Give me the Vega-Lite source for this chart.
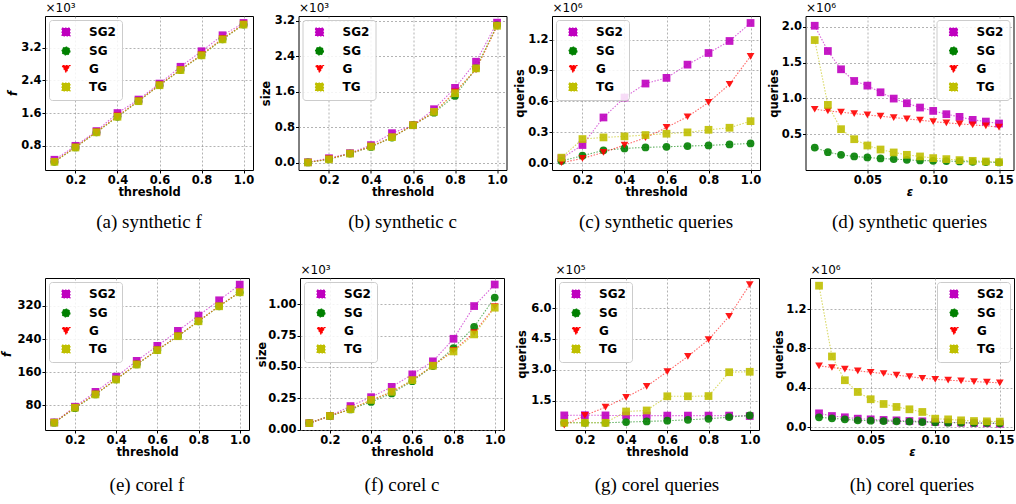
{
"$schema":"https://vega.github.io/schema/vega-lite/v6.json",
"padding":{"left":0,"top":0,"right":2,"bottom":2},
"datasets":{
"a":[
{"s":"SG2","x":0.1,"y":0.46},{"s":"SG2","x":0.2,"y":0.80},{"s":"SG2","x":0.3,"y":1.16},{"s":"SG2","x":0.4,"y":1.60},{"s":"SG2","x":0.5,"y":1.93},{"s":"SG2","x":0.6,"y":2.32},{"s":"SG2","x":0.7,"y":2.73},{"s":"SG2","x":0.8,"y":3.11},{"s":"SG2","x":0.9,"y":3.50},{"s":"SG2","x":1.0,"y":3.80},
{"s":"SG","x":0.1,"y":0.41},{"s":"SG","x":0.2,"y":0.76},{"s":"SG","x":0.3,"y":1.13},{"s":"SG","x":0.4,"y":1.51},{"s":"SG","x":0.5,"y":1.89},{"s":"SG","x":0.6,"y":2.28},{"s":"SG","x":0.7,"y":2.65},{"s":"SG","x":0.8,"y":3.01},{"s":"SG","x":0.9,"y":3.40},{"s":"SG","x":1.0,"y":3.76},
{"s":"G","x":0.1,"y":0.42},{"s":"G","x":0.2,"y":0.77},{"s":"G","x":0.3,"y":1.14},{"s":"G","x":0.4,"y":1.53},{"s":"G","x":0.5,"y":1.90},{"s":"G","x":0.6,"y":2.29},{"s":"G","x":0.7,"y":2.66},{"s":"G","x":0.8,"y":3.03},{"s":"G","x":0.9,"y":3.42},{"s":"G","x":1.0,"y":3.77},
{"s":"TG","x":0.1,"y":0.41},{"s":"TG","x":0.2,"y":0.76},{"s":"TG","x":0.3,"y":1.13},{"s":"TG","x":0.4,"y":1.51},{"s":"TG","x":0.5,"y":1.89},{"s":"TG","x":0.6,"y":2.28},{"s":"TG","x":0.7,"y":2.65},{"s":"TG","x":0.8,"y":3.01},{"s":"TG","x":0.9,"y":3.40},{"s":"TG","x":1.0,"y":3.76}
],
"b":[
{"s":"SG2","x":0.1,"y":0.015},{"s":"SG2","x":0.2,"y":0.105},{"s":"SG2","x":0.3,"y":0.22},{"s":"SG2","x":0.4,"y":0.40},{"s":"SG2","x":0.5,"y":0.67},{"s":"SG2","x":0.6,"y":0.85},{"s":"SG2","x":0.7,"y":1.21},{"s":"SG2","x":0.8,"y":1.69},{"s":"SG2","x":0.9,"y":2.28},{"s":"SG2","x":1.0,"y":3.16},
{"s":"SG","x":0.1,"y":0.01},{"s":"SG","x":0.2,"y":0.08},{"s":"SG","x":0.3,"y":0.21},{"s":"SG","x":0.4,"y":0.36},{"s":"SG","x":0.5,"y":0.57},{"s":"SG","x":0.6,"y":0.85},{"s":"SG","x":0.7,"y":1.13},{"s":"SG","x":0.8,"y":1.51},{"s":"SG","x":0.9,"y":2.13},{"s":"SG","x":1.0,"y":3.10},
{"s":"G","x":0.1,"y":0.01},{"s":"G","x":0.2,"y":0.09},{"s":"G","x":0.3,"y":0.21},{"s":"G","x":0.4,"y":0.37},{"s":"G","x":0.5,"y":0.58},{"s":"G","x":0.6,"y":0.85},{"s":"G","x":0.7,"y":1.14},{"s":"G","x":0.8,"y":1.60},{"s":"G","x":0.9,"y":2.10},{"s":"G","x":1.0,"y":3.08},
{"s":"TG","x":0.1,"y":0.01},{"s":"TG","x":0.2,"y":0.08},{"s":"TG","x":0.3,"y":0.21},{"s":"TG","x":0.4,"y":0.37},{"s":"TG","x":0.5,"y":0.58},{"s":"TG","x":0.6,"y":0.85},{"s":"TG","x":0.7,"y":1.15},{"s":"TG","x":0.8,"y":1.57},{"s":"TG","x":0.9,"y":2.13},{"s":"TG","x":1.0,"y":3.09}
],
"c":[
{"s":"SG2","x":0.1,"y":0.045},{"s":"SG2","x":0.2,"y":0.175},{"s":"SG2","x":0.3,"y":0.443},{"s":"SG2","x":0.4,"y":0.637},{"s":"SG2","x":0.5,"y":0.773},{"s":"SG2","x":0.6,"y":0.828},{"s":"SG2","x":0.7,"y":0.957},{"s":"SG2","x":0.8,"y":1.07},{"s":"SG2","x":0.9,"y":1.187},{"s":"SG2","x":1.0,"y":1.362},
{"s":"SG","x":0.1,"y":0.02},{"s":"SG","x":0.2,"y":0.071},{"s":"SG","x":0.3,"y":0.123},{"s":"SG","x":0.4,"y":0.142},{"s":"SG","x":0.5,"y":0.152},{"s":"SG","x":0.6,"y":0.158},{"s":"SG","x":0.7,"y":0.165},{"s":"SG","x":0.8,"y":0.171},{"s":"SG","x":0.9,"y":0.181},{"s":"SG","x":1.0,"y":0.19},
{"s":"G","x":0.1,"y":0.003},{"s":"G","x":0.2,"y":0.045},{"s":"G","x":0.3,"y":0.103},{"s":"G","x":0.4,"y":0.175},{"s":"G","x":0.5,"y":0.246},{"s":"G","x":0.6,"y":0.346},{"s":"G","x":0.7,"y":0.45},{"s":"G","x":0.8,"y":0.589},{"s":"G","x":0.9,"y":0.766},{"s":"G","x":1.0,"y":1.038},
{"s":"TG","x":0.1,"y":0.052},{"s":"TG","x":0.2,"y":0.233},{"s":"TG","x":0.3,"y":0.249},{"s":"TG","x":0.4,"y":0.259},{"s":"TG","x":0.5,"y":0.272},{"s":"TG","x":0.6,"y":0.285},{"s":"TG","x":0.7,"y":0.298},{"s":"TG","x":0.8,"y":0.323},{"s":"TG","x":0.9,"y":0.343},{"s":"TG","x":1.0,"y":0.407}
],
"d":[
{"s":"SG2","x":0.01,"y":2.014},{"s":"SG2","x":0.02,"y":1.661},{"s":"SG2","x":0.03,"y":1.406},{"s":"SG2","x":0.04,"y":1.243},{"s":"SG2","x":0.05,"y":1.178},{"s":"SG2","x":0.06,"y":1.085},{"s":"SG2","x":0.07,"y":0.997},{"s":"SG2","x":0.08,"y":0.932},{"s":"SG2","x":0.09,"y":0.872},{"s":"SG2","x":0.10,"y":0.825},{"s":"SG2","x":0.11,"y":0.779},{"s":"SG2","x":0.12,"y":0.742},{"s":"SG2","x":0.13,"y":0.700},{"s":"SG2","x":0.14,"y":0.676},{"s":"SG2","x":0.15,"y":0.649},
{"s":"SG","x":0.01,"y":0.314},{"s":"SG","x":0.02,"y":0.249},{"s":"SG","x":0.03,"y":0.212},{"s":"SG","x":0.04,"y":0.189},{"s":"SG","x":0.05,"y":0.175},{"s":"SG","x":0.06,"y":0.161},{"s":"SG","x":0.07,"y":0.152},{"s":"SG","x":0.08,"y":0.142},{"s":"SG","x":0.09,"y":0.133},{"s":"SG","x":0.10,"y":0.128},{"s":"SG","x":0.11,"y":0.124},{"s":"SG","x":0.12,"y":0.119},{"s":"SG","x":0.13,"y":0.114},{"s":"SG","x":0.14,"y":0.110},{"s":"SG","x":0.15,"y":0.105},
{"s":"G","x":0.01,"y":0.848},{"s":"G","x":0.02,"y":0.825},{"s":"G","x":0.03,"y":0.807},{"s":"G","x":0.04,"y":0.788},{"s":"G","x":0.05,"y":0.769},{"s":"G","x":0.06,"y":0.751},{"s":"G","x":0.07,"y":0.732},{"s":"G","x":0.08,"y":0.714},{"s":"G","x":0.09,"y":0.695},{"s":"G","x":0.10,"y":0.676},{"s":"G","x":0.11,"y":0.658},{"s":"G","x":0.12,"y":0.644},{"s":"G","x":0.13,"y":0.630},{"s":"G","x":0.14,"y":0.616},{"s":"G","x":0.15,"y":0.598},
{"s":"TG","x":0.01,"y":1.814},{"s":"TG","x":0.02,"y":0.909},{"s":"TG","x":0.03,"y":0.570},{"s":"TG","x":0.04,"y":0.430},{"s":"TG","x":0.05,"y":0.342},{"s":"TG","x":0.06,"y":0.286},{"s":"TG","x":0.07,"y":0.245},{"s":"TG","x":0.08,"y":0.212},{"s":"TG","x":0.09,"y":0.189},{"s":"TG","x":0.10,"y":0.166},{"s":"TG","x":0.11,"y":0.152},{"s":"TG","x":0.12,"y":0.138},{"s":"TG","x":0.13,"y":0.128},{"s":"TG","x":0.14,"y":0.119},{"s":"TG","x":0.15,"y":0.110}
],
"e":[
{"s":"SG2","x":0.1,"y":38.1},{"s":"SG2","x":0.2,"y":76},{"s":"SG2","x":0.3,"y":112},{"s":"SG2","x":0.4,"y":148.5},{"s":"SG2","x":0.5,"y":187},{"s":"SG2","x":0.6,"y":223.4},{"s":"SG2","x":0.7,"y":259.7},{"s":"SG2","x":0.8,"y":296.8},{"s":"SG2","x":0.9,"y":333.8},{"s":"SG2","x":1.0,"y":371.7},
{"s":"SG","x":0.1,"y":37.3},{"s":"SG","x":0.2,"y":72.5},{"s":"SG","x":0.3,"y":105.8},{"s":"SG","x":0.4,"y":142},{"s":"SG","x":0.5,"y":178.3},{"s":"SG","x":0.6,"y":213},{"s":"SG","x":0.7,"y":246.8},{"s":"SG","x":0.8,"y":283},{"s":"SG","x":0.9,"y":319.3},{"s":"SG","x":1.0,"y":353.2},
{"s":"G","x":0.1,"y":37.3},{"s":"G","x":0.2,"y":74},{"s":"G","x":0.3,"y":106.5},{"s":"G","x":0.4,"y":142.5},{"s":"G","x":0.5,"y":179},{"s":"G","x":0.6,"y":213.5},{"s":"G","x":0.7,"y":247.5},{"s":"G","x":0.8,"y":283.5},{"s":"G","x":0.9,"y":320},{"s":"G","x":1.0,"y":354},
{"s":"TG","x":0.1,"y":37.3},{"s":"TG","x":0.2,"y":73.6},{"s":"TG","x":0.3,"y":105.8},{"s":"TG","x":0.4,"y":142},{"s":"TG","x":0.5,"y":178.3},{"s":"TG","x":0.6,"y":213},{"s":"TG","x":0.7,"y":246.8},{"s":"TG","x":0.8,"y":283},{"s":"TG","x":0.9,"y":319.3},{"s":"TG","x":1.0,"y":353.2}
],
"f":[
{"s":"SG2","x":0.1,"y":0.052},{"s":"SG2","x":0.2,"y":0.109},{"s":"SG2","x":0.3,"y":0.188},{"s":"SG2","x":0.4,"y":0.259},{"s":"SG2","x":0.5,"y":0.341},{"s":"SG2","x":0.6,"y":0.441},{"s":"SG2","x":0.7,"y":0.545},{"s":"SG2","x":0.8,"y":0.725},{"s":"SG2","x":0.9,"y":0.986},{"s":"SG2","x":1.0,"y":1.158},
{"s":"SG","x":0.1,"y":0.052},{"s":"SG","x":0.2,"y":0.109},{"s":"SG","x":0.3,"y":0.161},{"s":"SG","x":0.4,"y":0.221},{"s":"SG","x":0.5,"y":0.289},{"s":"SG","x":0.6,"y":0.387},{"s":"SG","x":0.7,"y":0.507},{"s":"SG","x":0.8,"y":0.651},{"s":"SG","x":0.9,"y":0.82},{"s":"SG","x":1.0,"y":1.054},
{"s":"G","x":0.1,"y":0.05},{"s":"G","x":0.2,"y":0.109},{"s":"G","x":0.3,"y":0.165},{"s":"G","x":0.4,"y":0.235},{"s":"G","x":0.5,"y":0.30},{"s":"G","x":0.6,"y":0.395},{"s":"G","x":0.7,"y":0.51},{"s":"G","x":0.8,"y":0.632},{"s":"G","x":0.9,"y":0.774},{"s":"G","x":1.0,"y":0.981},
{"s":"TG","x":0.1,"y":0.052},{"s":"TG","x":0.2,"y":0.109},{"s":"TG","x":0.3,"y":0.163},{"s":"TG","x":0.4,"y":0.237},{"s":"TG","x":0.5,"y":0.302},{"s":"TG","x":0.6,"y":0.395},{"s":"TG","x":0.7,"y":0.51},{"s":"TG","x":0.8,"y":0.624},{"s":"TG","x":0.9,"y":0.760},{"s":"TG","x":1.0,"y":0.973}
],
"g":[
{"s":"SG2","x":0.1,"y":0.78},{"s":"SG2","x":0.2,"y":0.79},{"s":"SG2","x":0.3,"y":0.78},{"s":"SG2","x":0.4,"y":0.77},{"s":"SG2","x":0.5,"y":0.77},{"s":"SG2","x":0.6,"y":0.77},{"s":"SG2","x":0.7,"y":0.77},{"s":"SG2","x":0.8,"y":0.77},{"s":"SG2","x":0.9,"y":0.77},{"s":"SG2","x":1.0,"y":0.75},
{"s":"SG","x":0.1,"y":0.42},{"s":"SG","x":0.2,"y":0.42},{"s":"SG","x":0.3,"y":0.42},{"s":"SG","x":0.4,"y":0.455},{"s":"SG","x":0.5,"y":0.487},{"s":"SG","x":0.6,"y":0.52},{"s":"SG","x":0.7,"y":0.568},{"s":"SG","x":0.8,"y":0.616},{"s":"SG","x":0.9,"y":0.696},{"s":"SG","x":1.0,"y":0.777},
{"s":"G","x":0.1,"y":0.31},{"s":"G","x":0.2,"y":0.777},{"s":"G","x":0.3,"y":1.18},{"s":"G","x":0.4,"y":1.66},{"s":"G","x":0.5,"y":2.19},{"s":"G","x":0.6,"y":2.91},{"s":"G","x":0.7,"y":3.65},{"s":"G","x":0.8,"y":4.46},{"s":"G","x":0.9,"y":5.60},{"s":"G","x":1.0,"y":7.14},
{"s":"TG","x":0.1,"y":0.42},{"s":"TG","x":0.2,"y":0.42},{"s":"TG","x":0.3,"y":0.42},{"s":"TG","x":0.4,"y":0.97},{"s":"TG","x":0.5,"y":1.02},{"s":"TG","x":0.6,"y":1.71},{"s":"TG","x":0.7,"y":1.71},{"s":"TG","x":0.8,"y":1.72},{"s":"TG","x":0.9,"y":2.88},{"s":"TG","x":1.0,"y":2.90}
],
"h":[
{"s":"SG2","x":0.01,"y":0.142},{"s":"SG2","x":0.02,"y":0.115},{"s":"SG2","x":0.03,"y":0.102},{"s":"SG2","x":0.04,"y":0.088},{"s":"SG2","x":0.05,"y":0.081},{"s":"SG2","x":0.06,"y":0.075},{"s":"SG2","x":0.07,"y":0.071},{"s":"SG2","x":0.08,"y":0.064},{"s":"SG2","x":0.09,"y":0.061},{"s":"SG2","x":0.10,"y":0.054},{"s":"SG2","x":0.11,"y":0.051},{"s":"SG2","x":0.12,"y":0.047},{"s":"SG2","x":0.13,"y":0.044},{"s":"SG2","x":0.14,"y":0.041},{"s":"SG2","x":0.15,"y":0.037},
{"s":"SG","x":0.01,"y":0.102},{"s":"SG","x":0.02,"y":0.092},{"s":"SG","x":0.03,"y":0.081},{"s":"SG","x":0.04,"y":0.071},{"s":"SG","x":0.05,"y":0.068},{"s":"SG","x":0.06,"y":0.064},{"s":"SG","x":0.07,"y":0.061},{"s":"SG","x":0.08,"y":0.058},{"s":"SG","x":0.09,"y":0.054},{"s":"SG","x":0.10,"y":0.051},{"s":"SG","x":0.11,"y":0.047},{"s":"SG","x":0.12,"y":0.047},{"s":"SG","x":0.13,"y":0.044},{"s":"SG","x":0.14,"y":0.044},{"s":"SG","x":0.15,"y":0.041},
{"s":"G","x":0.01,"y":0.624},{"s":"G","x":0.02,"y":0.607},{"s":"G","x":0.03,"y":0.590},{"s":"G","x":0.04,"y":0.573},{"s":"G","x":0.05,"y":0.559},{"s":"G","x":0.06,"y":0.546},{"s":"G","x":0.07,"y":0.529},{"s":"G","x":0.08,"y":0.515},{"s":"G","x":0.09,"y":0.498},{"s":"G","x":0.10,"y":0.488},{"s":"G","x":0.11,"y":0.478},{"s":"G","x":0.12,"y":0.471},{"s":"G","x":0.13,"y":0.464},{"s":"G","x":0.14,"y":0.458},{"s":"G","x":0.15,"y":0.451},
{"s":"TG","x":0.01,"y":1.437},{"s":"TG","x":0.02,"y":0.719},{"s":"TG","x":0.03,"y":0.478},{"s":"TG","x":0.04,"y":0.359},{"s":"TG","x":0.05,"y":0.285},{"s":"TG","x":0.06,"y":0.237},{"s":"TG","x":0.07,"y":0.207},{"s":"TG","x":0.08,"y":0.183},{"s":"TG","x":0.09,"y":0.156},{"s":"TG","x":0.10,"y":0.088},{"s":"TG","x":0.11,"y":0.081},{"s":"TG","x":0.12,"y":0.071},{"s":"TG","x":0.13,"y":0.064},{"s":"TG","x":0.14,"y":0.061},{"s":"TG","x":0.15,"y":0.058}
]
},
"config":{
"font":"DejaVu Sans",
"view":{"stroke":"#000000","strokeWidth":1},
"axis":{"domain":false,"tickColor":"#000000","tickSize":3,"labelColor":"#000000","labelFont":"DejaVu Sans","labelFontWeight":"bold","labelFontSize":11.5,"labelPadding":1,"labelFlush":false,"labelOverlap":false,"titleColor":"#000000","titleFont":"DejaVu Sans","titleFontWeight":"bold","titleFontSize":11.5,"titlePadding":1,"grid":true,"gridColor":"#888888","gridDash":[2,2],"gridWidth":0.8,"gridOpacity":0.8},
"legend":{"orient":"top-left","offset":4,"title":null,"labelFont":"DejaVu Sans","labelFontWeight":"bold","labelFontSize":12,"labelColor":"#000000","padding":6,"rowPadding":5,"symbolOffset":5,"labelOffset":17,"symbolSize":64,"strokeColor":"#cccccc","fillColor":"rgba(255,255,255,0.85)","cornerRadius":3,"symbolStrokeWidth":0},
"title":{"font":"Liberation Serif","fontSize":19,"fontWeight":"normal","color":"#000000","orient":"bottom","offset":15},
"line":{"strokeDash":[1.5,1.5],"strokeWidth":1.1,"opacity":0.6},
"point":{"filled":true,"size":60,"opacity":0.9}
},
"spacing":29,
"resolve":{"scale":{"x":"independent","y":"independent"},"legend":{"color":"independent","shape":"independent"}},
"vconcat":[
{"hconcat":[
{"width":208,"height":154,"data":{"name":"a"},"title":{"text":"(a) synthetic f"},
"layer":[
{"mark":"line","encoding":{
"x":{"field":"x","type":"quantitative","scale":{"domain":[0.055,1.045],"nice":false,"zero":false},"axis":{"values":[0.2,0.4,0.6,0.8,1.0],"tickCount":12,"format":".1f","title":"threshold"}},
"y":{"field":"y","type":"quantitative","scale":{"domain":[0.21,3.97],"nice":false,"zero":false},"axis":{"values":[0.8,1.6,2.4,3.2],"tickCount":12,"format":".1f","title":"f","titleFontStyle":"italic","minExtent":26,"maxExtent":26}},
"color":{"field":"s","type":"nominal","scale":{"domain":["SG2","SG","G","TG"],"range":["#bf00bf","#008000","#ff0000","#bfbf00"]}}}},
{"mark":"point","encoding":{
"x":{"field":"x","type":"quantitative","axis":{"orient":"top","labels":false,"ticks":false,"domain":false,"grid":false,"title":"×10³","titleAnchor":"start","titleAlign":"left","titleFontWeight":"normal","titleFontSize":12,"titlePadding":2}},
"y":{"field":"y","type":"quantitative"},
"color":{"field":"s","type":"nominal","scale":{"domain":["SG2","SG","G","TG"],"range":["#bf00bf","#008000","#ff0000","#bfbf00"]}},
"shape":{"field":"s","type":"nominal","scale":{"domain":["SG2","SG","G","TG"],"range":["square","circle","triangle-down","square"]}}}}
],"resolve":{"axis":{"x":"independent"}}},
{"width":208,"height":154,"data":{"name":"b"},"title":{"text":"(b) synthetic c"},
"layer":[
{"mark":"line","encoding":{
"x":{"field":"x","type":"quantitative","scale":{"domain":[0.055,1.045],"nice":false,"zero":false},"axis":{"values":[0.2,0.4,0.6,0.8,1.0],"tickCount":12,"format":".1f","title":"threshold"}},
"y":{"field":"y","type":"quantitative","scale":{"domain":[-0.16,3.31],"nice":false,"zero":false},"axis":{"values":[0,0.8,1.6,2.4,3.2],"tickCount":12,"format":".1f","title":"size","minExtent":26,"maxExtent":26}},
"color":{"field":"s","type":"nominal","scale":{"domain":["SG2","SG","G","TG"],"range":["#bf00bf","#008000","#ff0000","#bfbf00"]}}}},
{"mark":"point","encoding":{
"x":{"field":"x","type":"quantitative","axis":{"orient":"top","labels":false,"ticks":false,"domain":false,"grid":false,"title":"×10³","titleAnchor":"start","titleAlign":"left","titleFontWeight":"normal","titleFontSize":12,"titlePadding":2}},
"y":{"field":"y","type":"quantitative"},
"color":{"field":"s","type":"nominal","scale":{"domain":["SG2","SG","G","TG"],"range":["#bf00bf","#008000","#ff0000","#bfbf00"]}},
"shape":{"field":"s","type":"nominal","scale":{"domain":["SG2","SG","G","TG"],"range":["square","circle","triangle-down","square"]}}}}
],"resolve":{"axis":{"x":"independent"}}},
{"width":208,"height":154,"data":{"name":"c"},"title":{"text":"(c) synthetic queries"},
"layer":[
{"mark":"line","encoding":{
"x":{"field":"x","type":"quantitative","scale":{"domain":[0.055,1.045],"nice":false,"zero":false},"axis":{"values":[0.2,0.4,0.6,0.8,1.0],"tickCount":12,"format":".1f","title":"threshold"}},
"y":{"field":"y","type":"quantitative","scale":{"domain":[-0.068,1.43],"nice":false,"zero":false},"axis":{"values":[0,0.3,0.6,0.9,1.2],"tickCount":12,"format":".1f","title":"queries","minExtent":26,"maxExtent":26}},
"color":{"field":"s","type":"nominal","scale":{"domain":["SG2","SG","G","TG"],"range":["#bf00bf","#008000","#ff0000","#bfbf00"]}}}},
{"mark":"point","encoding":{
"x":{"field":"x","type":"quantitative","axis":{"orient":"top","labels":false,"ticks":false,"domain":false,"grid":false,"title":"×10⁶","titleAnchor":"start","titleAlign":"left","titleFontWeight":"normal","titleFontSize":12,"titlePadding":2}},
"y":{"field":"y","type":"quantitative"},
"color":{"field":"s","type":"nominal","scale":{"domain":["SG2","SG","G","TG"],"range":["#bf00bf","#008000","#ff0000","#bfbf00"]}},
"shape":{"field":"s","type":"nominal","scale":{"domain":["SG2","SG","G","TG"],"range":["square","circle","triangle-down","square"]}}}}
],"resolve":{"axis":{"x":"independent"}}},
{"width":208,"height":154,"data":{"name":"d"},"title":{"text":"(d) synthetic queries"},
"layer":[
{"mark":"line","encoding":{
"x":{"field":"x","type":"quantitative","scale":{"domain":[0.003,0.161],"nice":false,"zero":false},"axis":{"values":[0.05,0.1,0.15],"tickCount":12,"format":".2f","title":"ε","titleFontStyle":"italic"}},
"y":{"field":"y","type":"quantitative","scale":{"domain":[0.0,2.15],"nice":false,"zero":false},"axis":{"values":[0.5,1.0,1.5,2.0],"tickCount":12,"format":".1f","title":"queries","minExtent":25,"maxExtent":25}},
"color":{"field":"s","type":"nominal","scale":{"domain":["SG2","SG","G","TG"],"range":["#bf00bf","#008000","#ff0000","#bfbf00"]},"legend":{"orient":"top-right"}}}},
{"mark":"point","encoding":{
"x":{"field":"x","type":"quantitative","axis":{"orient":"top","labels":false,"ticks":false,"domain":false,"grid":false,"title":"×10⁶","titleAnchor":"start","titleAlign":"left","titleFontWeight":"normal","titleFontSize":12,"titlePadding":2}},
"y":{"field":"y","type":"quantitative"},
"color":{"field":"s","type":"nominal","scale":{"domain":["SG2","SG","G","TG"],"range":["#bf00bf","#008000","#ff0000","#bfbf00"]},"legend":{"orient":"top-right"}},
"shape":{"field":"s","type":"nominal","scale":{"domain":["SG2","SG","G","TG"],"range":["square","circle","triangle-down","square"]},"legend":{"orient":"top-right"}}}}
],"resolve":{"axis":{"x":"independent"}}}
],"spacing":45.5,"bounds":"flush","resolve":{"scale":{"x":"independent","y":"independent"},"legend":{"color":"independent","shape":"independent"}}},
{"hconcat":[
{"width":204,"height":152,"data":{"name":"e"},"title":{"text":"(e) corel f","offset":18},
"layer":[
{"mark":"line","encoding":{
"x":{"field":"x","type":"quantitative","scale":{"domain":[0.055,1.045],"nice":false,"zero":false},"axis":{"values":[0.2,0.4,0.6,0.8,1.0],"tickCount":12,"format":".1f","title":"threshold"}},
"y":{"field":"y","type":"quantitative","scale":{"domain":[19.6,387.8],"nice":false,"zero":false},"axis":{"values":[80,160,240,320],"tickCount":12,"format":"d","title":"f","titleFontStyle":"italic","minExtent":32,"maxExtent":32}},
"color":{"field":"s","type":"nominal","scale":{"domain":["SG2","SG","G","TG"],"range":["#bf00bf","#008000","#ff0000","#bfbf00"]}}}},
{"mark":"point","encoding":{
"x":{"field":"x","type":"quantitative","axis":null},
"y":{"field":"y","type":"quantitative"},
"color":{"field":"s","type":"nominal","scale":{"domain":["SG2","SG","G","TG"],"range":["#bf00bf","#008000","#ff0000","#bfbf00"]}},
"shape":{"field":"s","type":"nominal","scale":{"domain":["SG2","SG","G","TG"],"range":["square","circle","triangle-down","square"]}}}}
],"resolve":{"axis":{"x":"independent"}}},
{"width":204,"height":152,"data":{"name":"f"},"title":{"text":"(f) corel c","offset":18},
"layer":[
{"mark":"line","encoding":{
"x":{"field":"x","type":"quantitative","scale":{"domain":[0.055,1.045],"nice":false,"zero":false},"axis":{"values":[0.2,0.4,0.6,0.8,1.0],"tickCount":12,"format":".1f","title":"threshold"}},
"y":{"field":"y","type":"quantitative","scale":{"domain":[-0.003,1.21],"nice":false,"zero":false},"axis":{"values":[0,0.25,0.5,0.75,1.0],"tickCount":12,"format":".2f","title":"size","minExtent":32,"maxExtent":32}},
"color":{"field":"s","type":"nominal","scale":{"domain":["SG2","SG","G","TG"],"range":["#bf00bf","#008000","#ff0000","#bfbf00"]}}}},
{"mark":"point","encoding":{
"x":{"field":"x","type":"quantitative","axis":{"orient":"top","labels":false,"ticks":false,"domain":false,"grid":false,"title":"×10³","titleAnchor":"start","titleAlign":"left","titleFontWeight":"normal","titleFontSize":12,"titlePadding":2}},
"y":{"field":"y","type":"quantitative"},
"color":{"field":"s","type":"nominal","scale":{"domain":["SG2","SG","G","TG"],"range":["#bf00bf","#008000","#ff0000","#bfbf00"]}},
"shape":{"field":"s","type":"nominal","scale":{"domain":["SG2","SG","G","TG"],"range":["square","circle","triangle-down","square"]}}}}
],"resolve":{"axis":{"x":"independent"}}},
{"width":204,"height":152,"data":{"name":"g"},"title":{"text":"(g) corel queries","offset":18},
"layer":[
{"mark":"line","encoding":{
"x":{"field":"x","type":"quantitative","scale":{"domain":[0.055,1.045],"nice":false,"zero":false},"axis":{"values":[0.2,0.4,0.6,0.8,1.0],"tickCount":12,"format":".1f","title":"threshold"}},
"y":{"field":"y","type":"quantitative","scale":{"domain":[0.07,7.46],"nice":false,"zero":false},"axis":{"values":[1.5,3.0,4.5,6.0],"tickCount":12,"format":".1f","title":"queries","minExtent":27,"maxExtent":27}},
"color":{"field":"s","type":"nominal","scale":{"domain":["SG2","SG","G","TG"],"range":["#bf00bf","#008000","#ff0000","#bfbf00"]}}}},
{"mark":"point","encoding":{
"x":{"field":"x","type":"quantitative","axis":{"orient":"top","labels":false,"ticks":false,"domain":false,"grid":false,"title":"×10⁵","titleAnchor":"start","titleAlign":"left","titleFontWeight":"normal","titleFontSize":12,"titlePadding":2}},
"y":{"field":"y","type":"quantitative"},
"color":{"field":"s","type":"nominal","scale":{"domain":["SG2","SG","G","TG"],"range":["#bf00bf","#008000","#ff0000","#bfbf00"]}},
"shape":{"field":"s","type":"nominal","scale":{"domain":["SG2","SG","G","TG"],"range":["square","circle","triangle-down","square"]}}}}
],"resolve":{"axis":{"x":"independent"}}},
{"width":204,"height":152,"data":{"name":"h"},"title":{"text":"(h) corel queries","offset":18},
"layer":[
{"mark":"line","encoding":{
"x":{"field":"x","type":"quantitative","scale":{"domain":[0.003,0.161],"nice":false,"zero":false},"axis":{"values":[0.05,0.1,0.15],"tickCount":12,"format":".2f","title":"ε","titleFontStyle":"italic"}},
"y":{"field":"y","type":"quantitative","scale":{"domain":[-0.027,1.515],"nice":false,"zero":false},"axis":{"values":[0,0.4,0.8,1.2],"tickCount":12,"format":".1f","title":"queries","minExtent":25,"maxExtent":25}},
"color":{"field":"s","type":"nominal","scale":{"domain":["SG2","SG","G","TG"],"range":["#bf00bf","#008000","#ff0000","#bfbf00"]},"legend":{"orient":"top-right"}}}},
{"mark":"point","encoding":{
"x":{"field":"x","type":"quantitative","axis":{"orient":"top","labels":false,"ticks":false,"domain":false,"grid":false,"title":"×10⁶","titleAnchor":"start","titleAlign":"left","titleFontWeight":"normal","titleFontSize":12,"titlePadding":2}},
"y":{"field":"y","type":"quantitative"},
"color":{"field":"s","type":"nominal","scale":{"domain":["SG2","SG","G","TG"],"range":["#bf00bf","#008000","#ff0000","#bfbf00"]},"legend":{"orient":"top-right"}},
"shape":{"field":"s","type":"nominal","scale":{"domain":["SG2","SG","G","TG"],"range":["square","circle","triangle-down","square"]},"legend":{"orient":"top-right"}}}}
],"resolve":{"axis":{"x":"independent"}}}
],"spacing":51,"bounds":"flush","resolve":{"scale":{"x":"independent","y":"independent"},"legend":{"color":"independent","shape":"independent"}}}
]
}
